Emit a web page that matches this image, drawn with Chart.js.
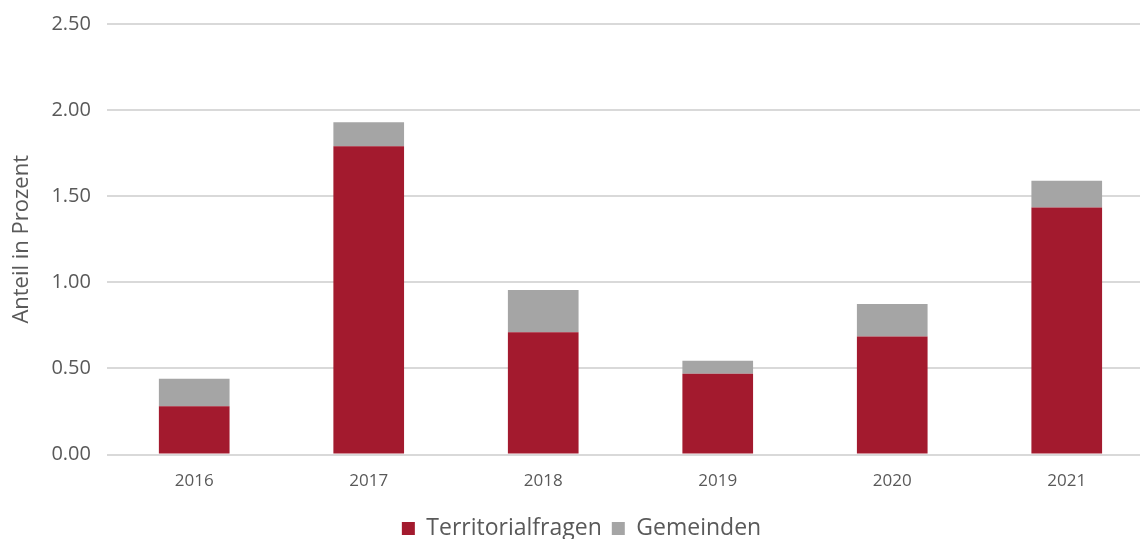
<!DOCTYPE html>
<html>
<head>
<meta charset="utf-8">
<script src="https://cdn.jsdelivr.net/npm/chart.js@4/dist/chart.umd.min.js"></script>
<style>
  html, body { margin: 0; padding: 0; background: #fff; overflow: hidden; }
  #wrap { position: relative; width: 1154px; height: 554px; margin-top: -4px; }
</style>
</head>
<body>
<div id="wrap"><canvas id="chart"></canvas></div>
<script>
"use strict";

// Anteil in Prozent, stacked per year
const YEARS = ["2016", "2017", "2018", "2019", "2020", "2021"];
const TERRITORIAL = [0.28, 1.79, 0.71, 0.47, 0.685, 1.435];
const GEMEINDEN = [0.16, 0.14, 0.245, 0.075, 0.19, 0.155];

const RED = "#a31a2e";
const GREY = "#a5a5a5";
const TEXT = "#595959";
const GRID = "#d9d9d9";
const FONT = "'Open Sans', Roboto, sans-serif";

new Chart(document.getElementById("chart"), {
  type: "bar",
  data: {
    labels: YEARS,
    datasets: [
      { label: "Territorialfragen", data: TERRITORIAL, backgroundColor: RED },
      { label: "Gemeinden", data: GEMEINDEN, backgroundColor: GREY },
    ],
  },
  options: {
    responsive: true,
    maintainAspectRatio: false,
    animation: false,
    barPercentage: 0.405,
    categoryPercentage: 1,
    layout: { padding: { top: 0, right: 0, left: 9, bottom: 0 } },
    plugins: {
      tooltip: { enabled: false },
      legend: {
        position: "bottom",
        labels: {
          color: TEXT, boxWidth: 13, boxHeight: 13, padding: 10,
          font: { family: FONT, size: 23 },
        },
      },
    },
    scales: {
      x: {
        stacked: true,
        grid: { display: false, drawTicks: false },
        border: { display: false },
        ticks: { color: TEXT, font: { family: FONT, size: 17 }, padding: 16 },
      },
      y: {
        stacked: true,
        min: 0, max: 2.5,
        grid: { color: GRID, lineWidth: 2, drawTicks: false },
        border: { display: false },
        ticks: {
          stepSize: 0.5, color: TEXT, padding: 16,
          font: { family: FONT, size: 20 },
          callback: (v) => v.toFixed(2),
        },
        title: {
          display: true, text: "Anteil in Prozent", color: TEXT,
          font: { family: FONT, size: 22 }, padding: { top: 0, bottom: 0 },
        },
      },
    },
  },
});
</script>
</body>
</html>
